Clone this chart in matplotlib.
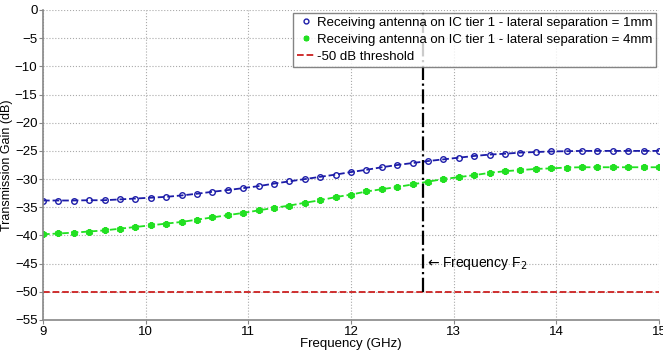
import numpy as np
import matplotlib
matplotlib.use("Agg")
import matplotlib.pyplot as plt
from matplotlib.lines import Line2D

plt.rcParams['font.family'] = ['Liberation Sans', 'DejaVu Sans']

# frequency samples (GHz)
freq = np.arange(41) * 0.15 + 9.0

# lateral separation = 1mm
gain_1mm = [-33.8, -33.8, -33.8, -33.75, -33.75, -33.6, -33.45, -33.3, -33.15, -32.9,
            -32.6, -32.25, -31.95, -31.6, -31.25, -30.8, -30.4, -30.0, -29.6, -29.2,
            -28.75, -28.35, -27.9, -27.5, -27.15, -26.8, -26.5, -26.2, -25.9, -25.65,
            -25.5, -25.3, -25.2, -25.1, -25.05, -25.0, -25.0, -25.0, -25.0, -25.0, -25.0]

# lateral separation = 4mm
gain_4mm = [-39.8, -39.65, -39.5, -39.3, -39.1, -38.8, -38.5, -38.2, -37.9, -37.6,
            -37.2, -36.8, -36.4, -36.0, -35.55, -35.1, -34.7, -34.2, -33.75, -33.2,
            -32.75, -32.2, -31.8, -31.4, -30.95, -30.45, -30.0, -29.65, -29.3, -28.9,
            -28.6, -28.4, -28.2, -28.1, -27.95, -27.9, -27.9, -27.9, -27.9, -27.9, -27.9]

labels = ['Receiving antenna on IC tier 1 - lateral separation = 1mm',
          'Receiving antenna on IC tier 1 - lateral separation = 4mm',
          '-50 dB threshold']
threshold = -50
f2 = 12.7

blue = '#1c1ca8'
green = '#22e022'
red = '#cc2020'
star = (6, 2, 0)

fig = plt.figure(figsize=(6.63, 3.54), dpi=100)
ax = fig.add_axes([43 / 663, 34 / 354, 616 / 663, 310 / 354])

ax.plot(freq, gain_1mm, '--o', color=blue, markersize=4, markerfacecolor='none',
        markeredgewidth=1.0, linewidth=1.3)
ax.plot(freq, gain_4mm, '--', color=green, marker=star, markersize=5,
        markeredgewidth=1.8, linewidth=1.3)
ax.plot([9, 15], [threshold, threshold], '--', color=red, linewidth=1.3)
ax.plot([f2, f2], [threshold, 0], '-.', color='black', linewidth=1.6)
ax.text(f2 + 0.02, -45, r'$\leftarrow$Frequency F$_2$', fontsize=10, va='center')

ax.set_xlim(9, 15)
ax.set_ylim(-55, 0)
ax.set_xticks(range(9, 16))
ax.set_yticks(range(-55, 1, 5))
ax.grid(True, linestyle=':', color='#aaaaaa', linewidth=0.8)
for s in ['top', 'right']:
    ax.spines[s].set_visible(False)
for s in ['left', 'bottom']:
    ax.spines[s].set_color('#888888')
    ax.spines[s].set_linewidth(1.2)
ax.tick_params(labelsize=9.5, length=3, color='#888888', pad=1)
ax.set_xlabel('Frequency (GHz)', fontsize=9.5, labelpad=0)
ax.set_ylabel('Transmission Gain (dB)', fontsize=9)
ax.yaxis.set_label_coords(-0.049, 0.5)

# matlab-style legend: marker only for the data series
handles = [
    Line2D([], [], linestyle='none', marker='o', color=blue, markersize=3.5,
           markerfacecolor='none', markeredgewidth=1.0),
    Line2D([], [], linestyle='none', marker=star, color=green, markersize=4,
           markeredgewidth=1.6),
    Line2D([], [], linestyle='--', color=red, linewidth=1.3),
]
leg = ax.legend(handles, labels, loc='upper right', fontsize=9.5, handlelength=1.3,
                handletextpad=0.2, borderaxespad=0.2, borderpad=0.3, labelspacing=0.35,
                fancybox=False)
leg.get_frame().set_edgecolor('#666666')
leg.get_frame().set_linewidth(1.0)

fig.savefig('out.png', dpi=100)
